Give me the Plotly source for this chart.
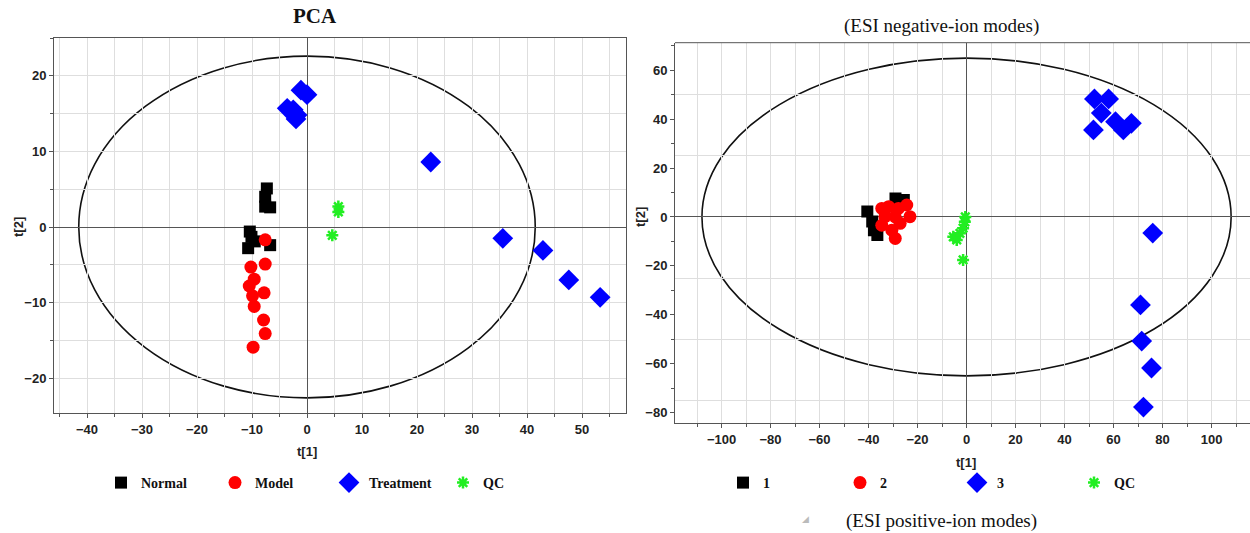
import plotly.graph_objects as go

# ---------------- data: left panel (PCA) ----------------
normal_x = [-7.3, -7.6, -7.6, -6.7, -10.4, -10.1, -10.7, -6.7, -9.5]
normal_y = [5.1, 4.0, 2.7, 2.6, -0.6, -1.3, -2.8, -2.4, -1.9]
model_x = [-7.6, -10.2, -7.6, -9.6, -10.5, -7.8, -9.9, -9.6, -7.9, -7.6, -9.8]
model_y = [-1.7, -5.3, -4.9, -6.9, -7.8, -8.7, -9.1, -10.5, -12.3, -14.1, -15.9]
treat_x = [-1.1, 0.0, -3.6, -2.5, -1.8, -2.0, 22.5, 35.6, 42.9, 47.6, 53.3]
treat_y = [18.1, 17.5, 15.7, 15.5, 14.8, 14.3, 8.6, -1.5, -3.1, -7.0, -9.3]
qc_x = [5.7, 5.7, 4.6]
qc_y = [2.7, 2.0, -1.1]
left_ellipse = [41.5, 22.6]  # semi-axes (t1, t2)
left_names = ["Normal", "Model", "Treatment", "QC"]
left_xticks = [-40, -30, -20, -10, 0, 10, 20, 30, 40, 50]
left_yticks = [-20, -10, 0, 10, 20]

# ---------------- data: right panel (ESI) ----------------
g1_x = [-40.5, -29.0, -25.6, -37.8, -36.4, -38.5]
g1_y = [2.2, 7.6, 6.9, -5.4, -7.4, -1.9]
g2_x = [-34.6, -33.3, -34.6, -30.5, -29.1, -27.8, -24.4, -23.1, -29.1, -27.1, -31.8]
g2_y = [3.5, 0.1, -3.4, -5.4, -8.8, 3.5, 4.9, 0.1, 0.0, -2.6, 4.2]
g3_x = [52.2, 58.0, 55.0, 51.8, 60.8, 64.0, 67.3, 76.0, 71.0, 71.5, 75.5, 72.2]
g3_y = [48.3, 48.3, 42.5, 35.6, 39.0, 35.6, 38.3, -6.6, -36.0, -50.8, -61.8, -77.8]
qc2_x = [-0.5, -0.7, -1.4, -2.7, -5.4, -4.0, -1.4]
qc2_y = [0.0, -2.0, -4.6, -6.7, -8.1, -9.4, -17.6]
right_ellipse = [108.0, 65.0]
right_names = ["1", "2", "3", "QC"]
right_xticks = [-100, -80, -60, -40, -20, 0, 20, 40, 60, 80, 100]
right_yticks = [-80, -60, -40, -20, 0, 20, 40, 60]

W, H = 1250, 533
BLACK, RED, BLUE, GREEN = "#000000", "#ff0000", "#0000ff", "#22ee22"
GRID = "#dedede"
TICKFONT = dict(family="Liberation Sans Narrow, Liberation Sans, Arial", size=13,
                color="#222", weight="bold")
SERIF = "Liberation Serif, Times New Roman, serif"

def px_x(p):
    return p / W

def px_y(p):
    return (H - p) / H

fig = go.Figure()

def add_group(x, y, name, symbol, color, size, xa, ya, legend):
    marker = dict(symbol=symbol, color=color, size=size, line=dict(width=0))
    if symbol == "asterisk":
        marker = dict(symbol="asterisk", size=size - 2, color=color,
                      line=dict(color=color, width=2.5))
    fig.add_trace(go.Scatter(x=x, y=y, mode="markers", name=name, marker=marker,
                             xaxis=xa, yaxis=ya, legend=legend))

add_group(normal_x, normal_y, left_names[0], "square", BLACK, 12, "x", "y", "legend")
add_group(model_x, model_y, left_names[1], "circle", RED, 13, "x", "y", "legend")
add_group(treat_x, treat_y, left_names[2], "diamond", BLUE, 16, "x", "y", "legend")
add_group(qc_x, qc_y, left_names[3], "asterisk", GREEN, 12, "x", "y", "legend")

add_group(g1_x, g1_y, right_names[0], "square", BLACK, 12, "x2", "y2", "legend2")
add_group(g2_x, g2_y, right_names[1], "circle", RED, 13, "x2", "y2", "legend2")
add_group(g3_x, g3_y, right_names[2], "diamond", BLUE, 16, "x2", "y2", "legend2")
add_group(qc2_x, qc2_y, right_names[3], "asterisk", GREEN, 12, "x2", "y2", "legend2")

# ellipses (Hotelling T2)
fig.add_shape(type="circle", xref="x", yref="y", x0=-left_ellipse[0], x1=left_ellipse[0],
              y0=-left_ellipse[1], y1=left_ellipse[1], line=dict(color="#111", width=1.6),
              layer="below")
fig.add_shape(type="circle", xref="x2", yref="y2", x0=-right_ellipse[0], x1=right_ellipse[0],
              y0=-right_ellipse[1], y1=right_ellipse[1], line=dict(color="#111", width=1.6),
              layer="below")

axis_common = dict(showline=True, linecolor="#555", linewidth=1, zeroline=True,
                   zerolinecolor="#555", zerolinewidth=1, gridcolor=GRID, gridwidth=1,
                   ticks="outside", ticklen=4, tickcolor="#555", tickfont=TICKFONT,
                   showgrid=True, fixedrange=True)

fig.update_layout(
    width=W, height=H, autosize=False,
    margin=dict(l=0, r=0, t=0, b=0, autoexpand=False),
    paper_bgcolor="white", plot_bgcolor="white",
    xaxis=dict(domain=[px_x(54), px_x(626)], range=[-46.0, 58.0], anchor="y",
               tickvals=left_xticks, mirror=True,
               minor=dict(dtick=5, tick0=0, showgrid=True, gridcolor=GRID, ticks="outside",
                          ticklen=3, tickcolor="#555"),
               **axis_common),
    yaxis=dict(domain=[px_y(413), px_y(38)], range=[-24.6, 25.0], anchor="x",
               tickvals=left_yticks, mirror=True,
               minor=dict(dtick=5, tick0=0, showgrid=True, gridcolor=GRID, ticks="outside",
                          ticklen=3, tickcolor="#555"),
               **axis_common),
    xaxis2=dict(domain=[px_x(675), 1.0], range=[-119.0, 115.7], anchor="y2",
                tickvals=right_xticks, mirror=False,
                minor=dict(dtick=10, tick0=0, showgrid=True, gridcolor=GRID, ticks="outside",
                           ticklen=3, tickcolor="#555"),
                **axis_common),
    yaxis2=dict(domain=[px_y(423), px_y(42.7)], range=[-84.3, 71.3], anchor="x2",
                tickvals=right_yticks, mirror=False,
                minor=dict(dtick=10, tick0=0, showgrid=False, ticks="outside",
                           ticklen=3, tickcolor="#555"),
                **{**axis_common, "showgrid": False}),
    yaxis3=dict(overlaying="y2", range=[-84.3, 71.3], anchor="x2", side="right",
                dtick=25, tick0=0, showgrid=True, gridcolor=GRID, showticklabels=False,
                ticks="", zeroline=False, showline=False, fixedrange=True),
    showlegend=True,
    legend=dict(orientation="h", x=px_x(101), y=px_y(483), xanchor="left", yanchor="middle",
                entrywidth=69, entrywidthmode="pixels", bgcolor="rgba(0,0,0,0)",
                font=dict(family=SERIF, size=14, color="#111", weight="bold"),
                itemclick=False, itemdoubleclick=False),
    legend2=dict(orientation="h", x=px_x(723), y=px_y(483), xanchor="left", yanchor="middle",
                 entrywidth=72, entrywidthmode="pixels", bgcolor="rgba(0,0,0,0)",
                 font=dict(family=SERIF, size=14, color="#111", weight="bold"),
                 itemclick=False, itemdoubleclick=False),
)

# top frame line for right panel (mirror only on top)
fig.add_shape(type="line", xref="x2 domain", yref="y2 domain", x0=0, x1=1, y0=1, y1=1,
              line=dict(color="#555", width=1))
# invisible trace to activate yaxis3 grid
fig.add_trace(go.Scatter(x=[None], y=[None], xaxis="x2", yaxis="y3", showlegend=False,
                         hoverinfo="skip"))

ann_font = dict(family="Liberation Sans Narrow, Liberation Sans, Arial", size=13,
                color="#222", weight="bold")
annotations = [
    dict(text="PCA", x=px_x(315), y=px_y(16), font=dict(family=SERIF, size=21, color="#111",
                                                          weight="bold")),
    dict(text="(ESI negative-ion modes)", x=px_x(941), y=px_y(26),
         font=dict(family=SERIF, size=19, color="#111")),
    dict(text="(ESI positive-ion modes)", x=px_x(941), y=px_y(521),
         font=dict(family=SERIF, size=19, color="#111")),
    dict(text="◢", x=px_x(805), y=px_y(519), font=dict(family="DejaVu Sans", size=9,
                                                       color="#bbbbbb")),
    dict(text="t[1]", x=px_x(307), y=px_y(452), font=ann_font),
    dict(text="t[1]", x=px_x(966), y=px_y(462), font=ann_font),
    dict(text="t[2]", x=px_x(18), y=px_y(227), textangle=-90, font=ann_font),
    dict(text="t[2]", x=px_x(640), y=px_y(217), textangle=-90, font=ann_font),
]
for a in annotations:
    fig.add_annotation(xref="paper", yref="paper", showarrow=False,
                       xanchor="center", yanchor="middle", **a)

fig.write_html("out.html",
               config=dict(displayModeBar=False),
               post_script="document.body.style.margin='0px';"
                           "document.body.style.overflow='hidden';")
